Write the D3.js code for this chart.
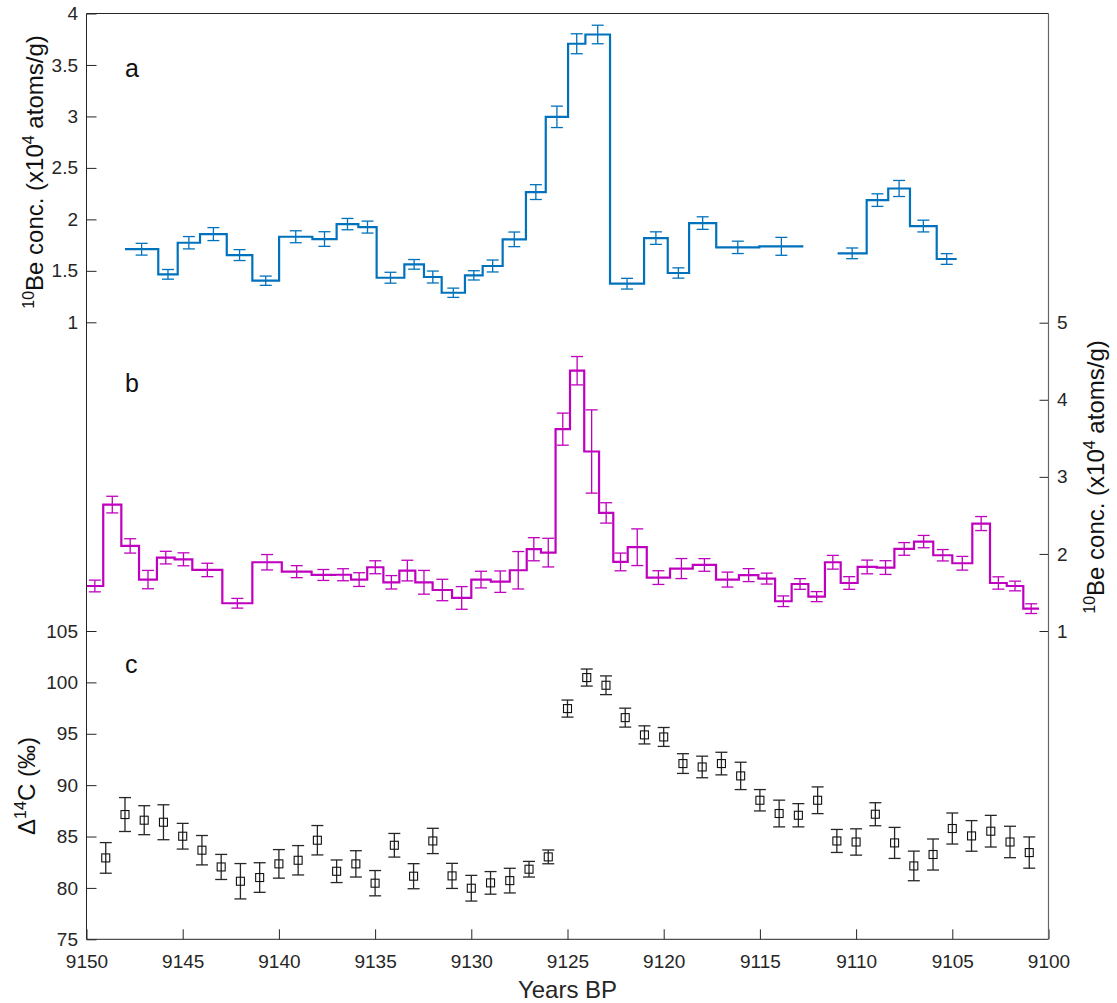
<!DOCTYPE html>
<html>
<head>
<meta charset="utf-8">
<script src="https://cdn.jsdelivr.net/npm/d3@7"></script>
<style>
    body { margin: 0; background: #fff; }
    svg { display: block; font-family: "Liberation Sans", Arial, Helvetica, sans-serif; }
    .tick text { fill: #262626; font-size: 19px; }
    .tick line { stroke: #262626; }
</style>
</head>
<body>
<div id="chart"></div>
<script>
// ---- data ----
// panel a: 10Be steps (years BP, from / to), value and error
const aStart = [9148.00, 9146.27, 9145.26, 9144.10, 9142.71, 9141.38, 9139.99, 9138.26, 9137.00, 9135.87,
    9134.92, 9133.48, 9132.46, 9131.54, 9130.33, 9129.41, 9128.37, 9127.16, 9126.13, 9124.97,
    9124.07, 9122.79, 9121.02, 9119.79, 9118.68, 9117.27, 9115.03, 9110.96, 9109.45, 9108.33,
    9107.20, 9105.81];
const aEnd = [9146.27, 9145.26, 9144.10, 9142.71, 9141.38, 9139.99, 9138.26, 9137.00, 9135.87, 9134.92,
    9133.48, 9132.46, 9131.54, 9130.33, 9129.41, 9128.37, 9127.16, 9126.13, 9124.97, 9124.07,
    9122.79, 9121.02, 9119.79, 9118.68, 9117.27, 9115.03, 9112.74, 9109.45, 9108.33, 9107.20,
    9105.81, 9104.77];
const aVal = [1.710, 1.466, 1.773, 1.857, 1.653, 1.404, 1.831, 1.809, 1.954, 1.925,
    1.433, 1.563, 1.440, 1.287, 1.456, 1.547, 1.806, 2.265, 2.996, 3.706,
    3.796, 1.375, 1.818, 1.479, 1.964, 1.728, 1.738, 1.670, 2.187, 2.300,
    1.935, 1.615];
const aErr = [0.057, 0.047, 0.060, 0.063, 0.053, 0.045, 0.058, 0.071, 0.055, 0.058,
    0.053, 0.047, 0.058, 0.045, 0.045, 0.058, 0.071, 0.072, 0.104, 0.097,
    0.090, 0.052, 0.061, 0.050, 0.061, 0.060, 0.087, 0.052, 0.061, 0.078,
    0.057, 0.052];

// panel b: 10Be steps, contiguous edges
const bEdges = [9150.00, 9149.13, 9148.19, 9147.27, 9146.34, 9145.42, 9144.50, 9142.94, 9141.38, 9139.85,
    9138.30, 9137.08, 9136.25, 9135.41, 9134.57, 9133.74, 9132.91, 9132.01, 9131.00, 9130.00,
    9128.99, 9128.00, 9127.12, 9126.38, 9125.62, 9124.87, 9124.13, 9123.36, 9122.62, 9121.87,
    9120.88, 9119.67, 9118.49, 9117.28, 9116.09, 9115.08, 9114.21, 9113.35, 9112.48, 9111.62,
    9110.80, 9109.92, 9108.93, 9108.01, 9106.99, 9105.99, 9105.00, 9103.96, 9103.04, 9102.17,
    9101.31, 9100.49];
const bVal = [1.584, 2.640, 2.104, 1.667, 1.952, 1.930, 1.792, 1.360, 1.892, 1.770,
    1.727, 1.730, 1.667, 1.827, 1.632, 1.784, 1.632, 1.532, 1.429, 1.667,
    1.640, 1.788, 2.061, 2.017, 3.619, 4.377, 3.329, 2.532, 1.896, 2.087,
    1.693, 1.810, 1.857, 1.667, 1.725, 1.680, 1.386, 1.610, 1.446, 1.892,
    1.623, 1.831, 1.823, 2.065, 2.160, 1.983, 1.879, 2.394, 1.623, 1.584,
    1.290];
const bErr = [0.076, 0.108, 0.093, 0.119, 0.082, 0.084, 0.087, 0.063, 0.100, 0.078,
    0.071, 0.078, 0.089, 0.084, 0.087, 0.134, 0.154, 0.139, 0.147, 0.108,
    0.139, 0.243, 0.150, 0.186, 0.208, 0.184, 0.540, 0.132, 0.115, 0.238,
    0.089, 0.130, 0.082, 0.097, 0.084, 0.071, 0.069, 0.069, 0.065, 0.089,
    0.082, 0.089, 0.089, 0.082, 0.080, 0.074, 0.089, 0.091, 0.080, 0.063,
    0.063];

// panel c: Delta 14C
const cYears = [9149, 9148, 9147, 9146, 9145, 9144, 9143, 9142, 9141, 9140,
    9139, 9138, 9137, 9136, 9135, 9134, 9133, 9132, 9131, 9130,
    9129, 9128, 9127, 9126, 9125, 9124, 9123, 9122, 9121, 9120,
    9119, 9118, 9117, 9116, 9115, 9114, 9113, 9112, 9111, 9110,
    9109, 9108, 9107, 9106, 9105, 9104, 9103, 9102, 9101];
const cVal = [82.92, 87.14, 86.59, 86.39, 85.03, 83.67, 82.04, 80.65, 81.01, 82.34,
    82.69, 84.64, 81.62, 82.34, 80.46, 84.15, 81.14, 84.57, 81.17, 79.97,
    80.49, 80.71, 81.82, 83.02, 97.45, 100.47, 99.72, 96.57, 94.89, 94.69,
    92.10, 91.77, 92.10, 90.90, 88.53, 87.24, 87.07, 88.53, 84.57, 84.47,
    87.17, 84.38, 82.14, 83.25, 85.78, 85.06, 85.52, 84.47, 83.44];
const cErr = [1.49, 1.65, 1.41, 1.70, 1.25, 1.43, 1.22, 1.72, 1.44, 1.39,
    1.43, 1.43, 1.10, 1.28, 1.23, 1.15, 1.22, 1.23, 1.22, 1.25,
    1.10, 1.20, 0.76, 0.67, 0.83, 0.83, 0.91, 0.92, 0.88, 0.92,
    0.96, 1.05, 1.10, 1.33, 1.04, 1.30, 1.13, 1.30, 1.12, 1.28,
    1.12, 1.51, 1.44, 1.51, 1.51, 1.49, 1.54, 1.53, 1.52];

// ticks
const xTicks = [9150, 9145, 9140, 9135, 9130, 9125, 9120, 9115, 9110, 9105, 9100];
const aTicks = [1, 1.5, 2, 2.5, 3, 3.5, 4];
const bTicks = [1, 2, 3, 4, 5];
const cTicks = [75, 80, 85, 90, 95, 100, 105];

// ---- layout ----
const width = 1117, height = 1003;
const pLeft = 86.5, pRight = 1048.5, pTop = 13.5, pBottom = 939.3;
const blue = '#0072BD', magenta = '#BF00BF', ink = '#262626';

const svg = d3.select('#chart').append('svg')
    .attr('width', width).attr('height', height);

// scales
const x = d3.scaleLinear().domain([9150, 9100]).range([pLeft, pRight]);
const yA = d3.scaleLinear().domain([1, 4]).range([322.3, pTop]);
const yB = d3.scaleLinear().domain([1, 5]).range([631, 322.7]);
const yC = d3.scaleLinear().domain([75, 105]).range([pBottom, 631]);

// stair points, null marks a gap
function stairs(starts, ends, vals) {
    let pts = [];
    starts.forEach((s, i) => {
        if (i > 0 && s !== ends[i - 1]) pts.push(null);
        pts.push([s, vals[i]], [ends[i], vals[i]]);
    });
    return pts;
}

function errorBars(g, bars, yScale, color, sw) {
    let eb = g.selectAll('.eb').data(bars).enter().append('g').attr('class', 'eb')
        .attr('stroke', color).attr('stroke-width', sw);
    eb.append('line')
        .attr('x1', d => x(d.t)).attr('x2', d => x(d.t))
        .attr('y1', d => yScale(d.v - d.e)).attr('y2', d => yScale(d.v + d.e));
    eb.append('line')
        .attr('x1', d => x(d.t) - 6).attr('x2', d => x(d.t) + 6)
        .attr('y1', d => yScale(d.v + d.e)).attr('y2', d => yScale(d.v + d.e));
    eb.append('line')
        .attr('x1', d => x(d.t) - 6).attr('x2', d => x(d.t) + 6)
        .attr('y1', d => yScale(d.v - d.e)).attr('y2', d => yScale(d.v - d.e));
}

function drawSteps(starts, ends, vals, errs, yScale, color) {
    let g = svg.append('g');
    let line = d3.line()
        .defined(d => d !== null)
        .x(d => x(d[0]))
        .y(d => yScale(d[1]));

    g.append('path')
        .datum(stairs(starts, ends, vals))
        .attr('d', line)
        .attr('fill', 'none')
        .attr('stroke', color)
        .attr('stroke-width', 2.2)
        .attr('stroke-linejoin', 'miter');

    let bars = vals.map((v, i) => ({ t: (starts[i] + ends[i]) / 2, v: v, e: errs[i] }));
    errorBars(g, bars, yScale, color, 1.3);
}

// panel a
drawSteps(aStart, aEnd, aVal, aErr, yA, blue);

// panel b
drawSteps(bEdges.slice(0, -1), bEdges.slice(1), bVal, bErr, yB, magenta);

// panel c
let gc = svg.append('g');
errorBars(gc, cVal.map((v, i) => ({ t: cYears[i], v: v, e: cErr[i] })), yC, ink, 1.3);
gc.selectAll('.sq').data(cVal).enter().append('rect')
    .attr('class', 'sq')
    .attr('x', (d, i) => x(cYears[i]) - 4)
    .attr('y', d => yC(d) - 4)
    .attr('width', 8).attr('height', 8)
    .attr('fill', 'none')
    .attr('stroke', '#111')
    .attr('stroke-width', 1.1);

// ---- axes ----
const noDomain = g => g.select('.domain').remove();

svg.append('g')
    .attr('transform', `translate(0,${pBottom})`)
    .call(d3.axisBottom(x).tickValues(xTicks).tickFormat(d => String(d)).tickSize(-10).tickPadding(15))
    .call(noDomain);

svg.append('g')
    .attr('transform', `translate(${pLeft},0)`)
    .call(d3.axisLeft(yA).tickValues(aTicks).tickFormat(d => String(d)).tickSize(-10).tickPadding(8.5))
    .call(noDomain);

svg.append('g')
    .attr('transform', `translate(${pLeft},0)`)
    .call(d3.axisLeft(yC).tickValues(cTicks).tickFormat(d => String(d)).tickSize(-10).tickPadding(8.5))
    .call(noDomain);

svg.append('g')
    .attr('transform', `translate(${pRight},0)`)
    .call(d3.axisRight(yB).tickValues(bTicks).tickFormat(d => String(d)).tickSize(-9).tickPadding(8.5))
    .call(noDomain);

svg.selectAll('.tick text').attr('font-family', null).attr('font-size', null);

// frame
svg.append('path')
    .attr('d', `M${pLeft},${pBottom}V${pTop}H${pRight}`)
    .attr('fill', 'none').attr('stroke', ink).attr('stroke-width', 1);
svg.append('line')
    .attr('x1', pRight).attr('x2', pRight).attr('y1', pTop).attr('y2', pBottom)
    .attr('stroke', '#666').attr('stroke-width', 1.2);
svg.append('line')
    .attr('x1', pLeft).attr('x2', pRight).attr('y1', pBottom).attr('y2', pBottom)
    .attr('stroke', ink).attr('stroke-width', 1);

// ---- titles ----
function beTitle(tx, ty) {
    let t = svg.append('text')
        .attr('transform', `translate(${tx},${ty}) rotate(-90)`)
        .attr('text-anchor', 'middle')
        .attr('font-size', 24)
        .attr('fill', '#111');
    t.append('tspan').attr('font-size', 16).attr('dy', -9).text('10');
    t.append('tspan').attr('dy', 9).text('Be conc. (x10');
    t.append('tspan').attr('font-size', 16).attr('dy', -9).text('4');
    t.append('tspan').attr('dy', 9).text(' atoms/g)');
}
beTitle(43, 172);
beTitle(1104, 477);

let ct = svg.append('text')
    .attr('transform', 'translate(35,786) rotate(-90)')
    .attr('text-anchor', 'middle')
    .attr('font-size', 24)
    .attr('fill', '#111');
ct.append('tspan').text('Δ');
ct.append('tspan').attr('font-size', 16).attr('dy', -9).text('14');
ct.append('tspan').attr('dy', 9).text('C (‰)');

svg.append('text')
    .attr('x', (pLeft + pRight) / 2).attr('y', 998)
    .attr('text-anchor', 'middle')
    .attr('font-size', 24)
    .attr('fill', ink)
    .text('Years BP');

// panel letters
const letters = [['a', 77], ['b', 392], ['c', 673]];
letters.forEach(([l, yy]) => {
    svg.append('text').attr('x', 125).attr('y', yy)
        .attr('font-size', 25).attr('fill', '#111').text(l);
});
</script>
</body>
</html>
